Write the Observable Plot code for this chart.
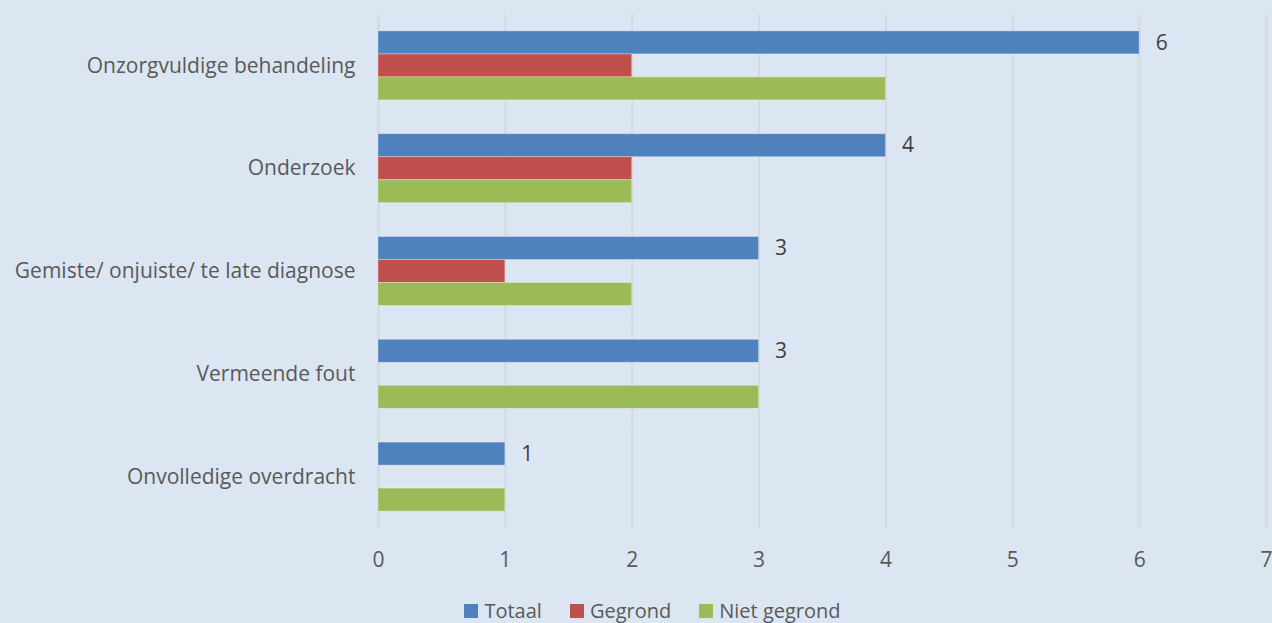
<!DOCTYPE html>
<html>
<head>
<meta charset="utf-8">
<script src="https://cdn.jsdelivr.net/npm/d3@7"></script>
<script src="https://cdn.jsdelivr.net/npm/@observablehq/plot@0.6"></script>
<style>
  html, body { margin: 0; padding: 0; background: #dce6f2; overflow: hidden; }
  #chart svg { display: block; }
  #legend { display: flex; justify-content: center; align-items: center; height: 42px; line-height: 1;
    font-family: "Open Sans", sans-serif; font-size: 20px; color: #595959; padding-left: 33px; }
  #legend .item { display: flex; align-items: center; margin: 0 14px; }
  #legend .sw { width: 14px; height: 14px; margin-right: 6px; }
</style>
</head>
<body>
<div id="chart"></div>
<div id="legend"></div>
<script>
const categories = ["Onzorgvuldige behandeling", "Onderzoek", "Gemiste/ onjuiste/ te late diagnose", "Vermeende fout", "Onvolledige overdracht"];
const series = ["Totaal", "Gegrond", "Niet gegrond"];
const totaal = [6, 4, 3, 3, 1];
const gegrond = [2, 2, 1, 0, 0];
const nietGegrond = [4, 2, 2, 3, 1];
const xTicks = [0, 1, 2, 3, 4, 5, 6, 7];
const colors = ["#4f81bd", "#c0504d", "#9bbb59"];

const values = [totaal, gegrond, nietGegrond];
const data = [];
categories.forEach((c, i) => {
  series.forEach((s, j) => {
    data.push({category: c, series: s, value: values[j][i]});
  });
});
const barData = data.filter(d => d.value > 0);
const labelData = data.filter(d => d.series === "Totaal");

const chart = Plot.plot({
  width: 1272,
  height: 590,
  marginLeft: 378,
  marginRight: 6,
  marginTop: 14,
  marginBottom: 62,
  style: {background: "#dce6f2", fontFamily: "Open Sans, sans-serif", fontSize: "21px", color: "#595959"},
  x: {domain: [0, 7], ticks: xTicks, tickFormat: "d", tickSize: 0, tickPadding: 24, label: null, fontSize: 20},
  fy: {domain: categories, padding: 0, round: false, label: null, axis: "left", tickSize: 0, tickPadding: 23},
  y: {domain: series, paddingInner: 0, paddingOuter: 0.735, round: false, axis: null},
  color: {domain: series, range: colors},
  marks: [
    Plot.ruleX(xTicks, {stroke: "#d5d9de", strokeWidth: 2}),
    Plot.barX(barData, {x: "value", y: "series", fy: "category", fill: "series", stroke: "#ffffff", strokeOpacity: 0.3, strokeWidth: 1}),
    Plot.text(labelData, {x: "value", y: "series", fy: "category", text: d => String(d.value), dx: 16, textAnchor: "start", fill: "#404040", fontSize: 21})
  ]
});
document.getElementById("chart").appendChild(chart);

const legend = document.getElementById("legend");
series.forEach((s, i) => {
  const item = document.createElement("div");
  item.className = "item";
  const sw = document.createElement("div");
  sw.className = "sw";
  sw.style.background = colors[i];
  const t = document.createElement("span");
  t.textContent = s;
  item.appendChild(sw);
  item.appendChild(t);
  legend.appendChild(item);
});
</script>
</body>
</html>
